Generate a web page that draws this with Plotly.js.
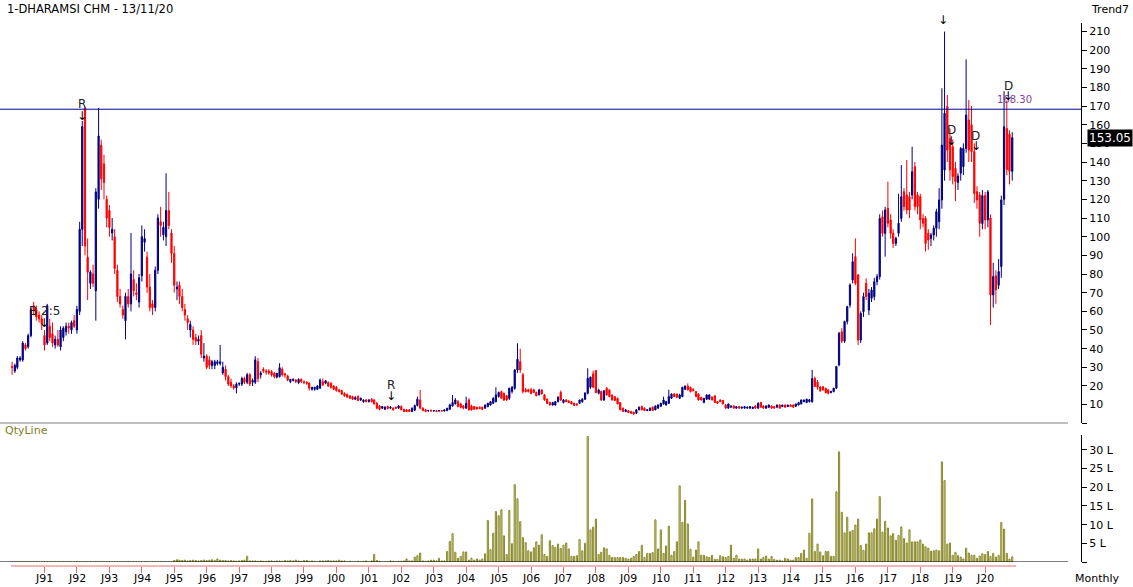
<!DOCTYPE html>
<html><head><meta charset="utf-8">
<script src="https://cdn.plot.ly/plotly-3.0.1.min.js"></script>
<style>html,body{margin:0;padding:0;background:#fff}#chart{width:1133px;height:587px}</style>
</head><body><div id="chart"></div><script>
const chartTitle = '1-DHARAMSI CHM - 13/11/20';
const startYear = 1990;
// monthly candles [open, high, low, close]
const ohlcRows = [
// 1990
[30.5,33,26,30],[28,32,27,31],[30,36,29,35],[34,36,33,35],[34,44,33,43],[42,43,39,40],[41,48,40,47],[47,62,46,61],[63,65,58,61],[61,63,55,57],[58,60,54,56],[56,58,50,53],
// 1991
[47,50,39,42],[43,64,42,63],[52,56,44,46],[48,54,41,43],[42,47,40,45],[45,50,41,42],[41,52,39,50],[46,52,44,51],[49,54,47,52],[52,54,48,51],[50,55,48,54],[55,58,51,52],
// 1992
[50,63,48,61],[60,108,58,104],[104,162,95,159],[169,169,90,95],[89,99,66,81],[75,82,72,81],[80,85,73,75],[71,126,55,124],[120,169,115,154],[149,152,125,131],[139,144,120,129],[120,122,105,110],
// 1993
[114,117,100,105],[102,110,98,104],[100,104,80,83],[82,85,65,68],[68,72,62,64],[61,63,56,58],[55,70,45,68],[68,72,62,64],[64,102,60,80],[77,82,68,71],[70,75,66,69],[65,80,62,78],
// 1994
[79,106,76,100],[97,104,92,99],[89,92,70,73],[73,80,60,62],[64,66,58,62],[62,84,60,82],[82,112,80,110],[108,116,100,106],[101,108,98,105],[100,134,95,114],[114,124,104,106],[102,104,86,91],
// 1995
[91,95,70,74],[72,76,66,73],[74,76,64,68],[68,72,60,62],[61,64,55,58],[56,58,50,54],[50,55,46,53],[50,52,42,45],[46,48,42,44],[44,47,42,45],[47,50,35,37],[35,43,33,36],
// 1996
[36,37,29,30],[34,36,29,31],[31,34,29,33],[31,34,29,33],[32,34,31,33],[32,42,31,33],[27,33,26,30],[29,31,23,25],[25,26,20,21],[22,24,19,20],[20,21,18,19],[19,22,16,21],
// 1997
[21,22,20,21.3],[21,25,20,24],[24,25,21,22],[22,27,21,26],[26,27,20,21],[22,24,20,23],[22,36,21,34],[33,35,22,24],[26,28,24,27],[29,30,27,28],[28,29,26,27.5],[28,29,26,27],
// 1998
[27.7,28.5,25,25.9],[26.8,27.5,24,25],[24.7,26,24,26.8],[25,32.2,24.5,29.8],[29,30,25,26],[26.5,27,24.5,25.9],[25.4,26,22.5,23.2],[22.3,23.6,21.5,23.6],[23,24,22.5,23.6],[23.2,23.6,21.5,22.3],[21.8,24,21,23.6],[23.6,24,21.5,22.3],
// 1999
[22.3,23,21,21.8],[22,22.5,20.5,21.5],[21.5,22,17.5,18.8],[18.2,19.5,17.5,19.3],[18.2,19.5,17.5,19.3],[18.2,20.5,17.8,20],[18.8,24,18.5,23.2],[22.3,24,20,20.6],[21.5,23,21,22.8],[21.8,22.5,19.5,20],[21.5,22,18.5,19.3],[20,20.5,17.8,18.2],
// 2000
[19.3,20,17,17.5],[17.9,18.5,16.5,17],[17.5,18,15.2,15.7],[16.1,16.5,14.2,14.7],[15.4,16,13.8,14],[14.7,15,13,13.4],[14.3,14.8,12.5,12.9],[12.9,14.5,12.5,13.8],[14.3,15,11.8,12.2],[12.5,13.8,12,13.4],[11.6,12.8,11,12.5],[12.5,13,11.2,11.6],
// 2001
[11.6,13,11.2,12.5],[12.9,13.5,11.2,11.6],[12.5,12.9,10,10.4],[10.7,11.5,7.6,8.1],[9.3,9.8,7,7.5],[8.1,9.3,7.7,8.95],[7.5,9.2,7.2,8.6],[8.95,9.5,7.4,7.9],[8.1,9.2,7.6,8.6],[8.1,8.6,6.8,7.2],[8.6,9,7.8,8.1],[8.1,9.8,7.8,9.3],
// 2002
[9,9.6,7,7.2],[7.5,7.8,6,6.3],[7.2,7.5,6,6.3],[7.2,7.5,6,6.3],[6.3,8.5,6,8.1],[7,10,6.8,9.5],[9.5,14.3,9,12.9],[12.5,17.9,7.5,8.1],[8.1,8.6,6.5,6.8],[7.2,7.8,6,6.3],[6.6,7.2,6.3,6.8],[6.8,7.4,6.3,6.6],
// 2003
[6.6,7.2,6.3,6.8],[6.8,7.2,6,6.3],[6.6,7,6.2,6.8],[6.8,7.2,6.3,6.6],[6.6,7.2,6.2,7.2],[6.8,8.2,6.5,8.1],[7.5,10.5,7.2,9.8],[9.3,15.2,9,11.1],[10.5,13.5,10,12.5],[11.6,12.5,8.5,9],[10.4,11,8,8.6],[9.3,9.8,7.5,8.1],
// 2004
[8.1,14.3,7.8,10.7],[12.5,13.5,6.8,7.2],[9.3,10,6.8,7.2],[8.95,9.3,7.2,7.5],[8.6,8.95,7.4,7.7],[8.6,9,7.5,7.9],[8.6,9,7,7.5],[8.1,10,7.8,9.8],[8.95,11,8.6,10.7],[9.8,12,9.5,11.6],[10.7,14,10.4,13.4],[11.6,19.3,11.2,15.2],
// 2005
[14.3,17,13.8,16.5],[17,17.5,13,13.4],[16.1,16.5,12,12.5],[14.7,15.2,12,12.5],[13.4,19,12.5,18.8],[17,20,16,19.3],[18.8,29,18,28.6],[28.6,42.9,27,34.3],[33,40,27,28.6],[26,27,16,17],[18,19,16.5,17],[18,18.5,16.5,17],
// 2006
[18,19,15.5,16],[17.9,18.5,16.5,16.5],[16.5,17,14.5,14.7],[15.2,18.5,15,17.9],[17.9,18.2,15.5,15.7],[15.2,15.7,12,12.5],[12.9,13.4,10.4,10.7],[11.1,11.6,9.5,9.8],[9.8,11.5,9.5,11.1],[9.8,12,9.5,11.6],[11.6,14.5,11.2,14],[16.5,17.5,12,12.5],
// 2007
[11.1,13,10.7,12.5],[12.5,13,11.4,11.6],[12,12.3,10.8,11.1],[11.6,12,10.2,10.4],[10.7,11,9.3,9.6],[10.4,10.7,9.5,9.8],[10.7,12.5,10.4,12.5],[11.6,13.5,11,12.9],[12.9,16.5,12.5,16.3],[16.1,29.5,15.5,24.1],[19.3,25,18.5,24.7],[26.5,28.2,19,19.3],
// 2008
[28.2,28.6,16,16.5],[16.1,18.5,15.5,17.9],[17,17.5,12,12.5],[12.5,17.5,12,17.5],[18.8,19.5,14.8,15.2],[17.9,18.2,14,14.3],[15.2,15.5,12.2,12.5],[14.3,14.6,12,12.2],[13.4,13.8,10.2,10.4],[11.1,11.4,7,7.2],[8.1,8.4,6.1,6.3],[6.3,7.5,6,7.2],
// 2009
[6.8,7.1,5.5,5.7],[6.3,6.6,5,5.4],[5.9,6.2,4.6,5],[5.4,7.5,5,7.2],[7.2,9,7,8.6],[8.95,9.5,7,7.2],[8.1,8.5,6.7,6.8],[6.8,7.5,6.5,7.2],[6.8,8.5,6.6,8.1],[8.6,9,6.6,6.8],[7.2,9.5,7,9.3],[8.1,10.2,7.8,9.8],
// 2010
[9.1,11,8.8,10.7],[10.4,14.3,10,12.5],[9.8,12,9.5,11.6],[10.7,18,10.4,14.3],[13.4,16,13,15.7],[15.7,16.2,14,14.3],[15.7,16,13.5,13.9],[13.4,15.8,13,15.2],[14.3,19.5,14,19.3],[18.2,20.2,17.8,20],[20,21.4,17.7,17.9],[19.3,19.6,16.5,17],
// 2011
[18.2,18.8,17,17.5],[17,17.3,14,14.3],[15.7,16,12.2,12.5],[13.9,14.2,12.3,12.5],[11.1,13.6,10.8,13.4],[12.9,15.5,12.6,15.2],[12.9,15.5,12.6,15.2],[14,14.4,12.3,12.5],[14.7,15,10.9,11.1],[11.6,12,10.4,10.7],[12.5,12.8,11.3,11.6],[12.2,12.5,10.2,10.4],
// 2012
[9.8,10.2,8,8.1],[8.1,10.5,7.9,10.4],[8.6,9.5,8.4,9.3],[9.3,9.6,8,8.1],[8.1,9.2,7.9,8.95],[8.95,9.2,8,8.1],[8.1,9,7.9,8.6],[8.1,9.2,7.9,8.95],[8.1,8.9,7.9,8.6],[8.1,9.2,7.9,8.95],[7.9,8.9,7.7,8.6],[9.3,9.8,7.9,8.1],
// 2013
[8.1,11.2,7.9,10.7],[11.1,11.5,8.4,8.6],[9.3,9.6,8,8.1],[8.1,9.5,7.9,9.3],[8.6,10,8.4,9.8],[9.3,9.6,8,8.1],[8.95,9.2,8,8.1],[8.6,10,8.4,9.8],[9.8,10.2,8,8.1],[8.95,9.9,8.8,9.8],[9.8,10.1,8.5,8.6],[8.95,10,8.8,9.8],
// 2014
[9.8,10.1,8.9,8.95],[9.8,10.1,8.4,8.6],[9.1,10.5,8.9,10.4],[9.8,11.5,9.6,11.1],[10.4,12.7,10.1,12.5],[11.6,12.7,11.3,12.5],[11.1,13.2,10.8,12.9],[11.6,13,11.2,12.6],[11.6,28.6,11,24],[24.1,25,19.5,19.7],[22,23.2,18,19.3],[19.5,20,16.8,17.5],
// 2015
[19.6,20,17.5,17.9],[18.7,19.2,16,16.4],[17.9,18.3,15.5,16.1],[16.5,17.5,16,17],[17,19,16.6,18.8],[18.8,30.8,18.3,30.4],[31.3,49,30.5,48.2],[49,51,43,44],[44,55,43,54.5],[54.5,63,53,62.5],[63.4,75,62,74.1],[76.8,91.1,75,86.6],
// 2016
[89.3,99.1,74,75],[79.5,80,41.9,44.6],[44.6,60,43,58.9],[59.8,70,57,67.9],[75,77.7,66,67.9],[60.7,72,58,69.7],[67,73,65,71.4],[67.9,78,66,75.9],[75.9,80,74,78.6],[78.6,112,77,109.8],[110.7,114,100,101.8],[101.8,116,89.3,114.3],
// 2017
[115.2,129.5,105,107.2],[109,112,99,101.8],[101.8,104,94,96.4],[96.4,100,95,99.1],[101.8,123,100,107.2],[109.8,138.4,108,121.4],[124.1,126,114,116.1],[122.3,141.1,112,114.3],[121.4,124,110,114.3],[122.3,148.2,120,134.8],[137.5,140,114,116.1],[122.3,124,112,116.1],
// 2018
[121.4,123,104,109],[109.8,112,105,107.2],[109.8,111,92,96.4],[101.8,104,93,98.2],[99,102,95,100.9],[100.9,106,98,104.5],[104.5,115,100,113.4],[108,126,104,119.7],[119.7,179.5,115,149.1],[135.7,209.9,130,166.1],[169.7,175.9,140,146.4],[152.7,158,130,135.7],
// 2019
[148.2,152,128,132.2],[136.6,140,119,129.5],[129,134,125,132.5],[134,148,130,147.3],[137.5,150,133,147.3],[147.3,195,145,165.2],[162.5,173.2,140,146.4],[160,170,140,145.6],[145.6,150,118,123.2],[124.1,127,115,119.7],[122.3,124,100,107.2],[107,125,104,122],
// 2020
[122,124,104,109],[109,125,105,124],[110,112,52.7,68.8],[68.8,86,62,78.6],[79,82,64,71.5],[74,88,72,81.3],[84,122,78,119.7],[120,178,117,158.9],[158,173,133,136],[155,157,128,135],[135,156,130,153.05]
];
// monthly quantity, in lakh shares
const volumeLakh = [
0,0,0,0,0,0,0,0,0,0,0,0,
0,0,0,0,0,0,0,0,0,0,0,0,
0,0,0,0,0,0,0,0,0,0,0,0,
0,0,0,0,0,0,0,0,0,0,0,0,
0,0,0,0,0,0,0,0,0,0,0,0,
0.4,0.6,0.5,0.4,0.5,0.3,0.4,0.5,0.4,0.3,0.4,0.5,
0.4,0.5,0.6,0.4,0.8,0.5,0.4,0.4,0.3,0.4,0.3,0.2,
0.3,0.4,0.5,1.5,0.3,0.3,0.3,0.2,0.3,0.2,0.2,0.3,
0.3,0.2,0.3,0.3,0.2,0.4,0.3,0.4,0.3,0.5,0.3,0.2,
0.4,0.4,0.2,0.3,0.2,0,0.3,0.3,0.3,0.4,0.3,0.3,
0.3,0.5,0.3,0.3,0,0.2,0,0,0.2,0,0.2,0.3,
0,0.3,2.0,0.4,0.2,0,0,0,0.3,0.2,0,0.2,
0.2,0.3,0.8,0.3,0.3,1.3,1.7,2.4,0.3,0.2,0.3,0.5,
0.5,0.3,1.0,0.3,0.3,2.8,5.5,7.6,2.6,1.0,1.5,2.7,
2.7,0.5,1.0,0.5,0.8,0.5,0.8,2.2,11.1,3.3,7.7,13.5,
12.4,14,7,2,13.8,4.9,20.7,16.9,10.8,6.5,5.2,3.0,
2.7,3.8,5.4,4.5,7.3,2,1.5,5.7,4.4,3.9,4.8,3.6,
4.5,5.1,3.5,1.5,1.5,1.7,6,3,5,33.6,8.6,9.3,
11.5,2,2.6,3.8,3.5,1.8,1.2,1.2,1.2,1.2,1.2,1.0,
0.8,1.0,1.5,2.0,2.8,4.5,1.2,2.3,2.3,2.5,11.3,3.5,
8.6,2.3,4.3,9.6,1.8,2.8,5.4,20.4,10.6,16.5,10.2,3.4,
1.3,3.2,5.4,1.8,1.8,1.4,1.2,1.8,0.7,0.7,1.7,1.4,
1.2,1.5,4.5,1.0,1.8,0.8,0.8,0.8,0.5,0.8,0.8,0.8,
3.5,0.8,1.2,1.6,0.8,1.5,0.7,0.5,0.5,0.3,1.0,0.8,
0.5,0.5,1.2,1.2,2.3,3.2,1.0,7.7,16.9,2.8,4.8,2.7,
1.7,2.8,2.8,1.5,1.5,18.8,29.5,13.3,7.8,12.0,8.1,8.4,
9.9,11.5,4.4,3.1,4.8,7.8,7.8,8.9,11.5,17.5,8.0,10.9,
9.1,7,7.6,5.8,7.1,9.4,6.3,5.1,8.6,5.4,5.4,5.4,
5.9,4.8,4.1,3.7,2.9,3.0,3.2,3.0,26.8,21.8,4.8,5.1,
1.8,2.6,1.7,1.3,0.8,3.7,2.4,1.8,1.8,1.0,1.6,2.2,
2.0,2.8,1.5,2.3,1.3,1.8,10.6,8.8,2.3,0.8,1.4
];
const yearTickLabels = ['J91','J92','J93','J94','J95','J96','J97','J98','J99','J00','J01','J02','J03','J04','J05','J06','J07','J08','J09','J10','J11','J12','J13','J14','J15','J16','J17','J18','J19','J20'];
const priceTickValues = [0,10,20,30,40,50,60,70,80,90,100,110,120,130,140,150,160,170,180,190,200,210];
const volumeTickValues = [0,5,10,15,20,25,30];
const resistanceLevel = 168.30;
const lastClose = 153.05;
// chart markers: [label, date, price of label, price of arrow]
const markers = [
  ['R','1992-02-28',171.1,164.7],
  ['R','2001-09-10',20.5,14.6],
  ['B 2:5','1990-12-28',60.2,53.8],
  ['D','2018-12-13',157.2,151.3],
  ['D','2019-09-19',154.0,148.6],
  ['D','2020-09-19',180.5,175.4]
];

const dates = ohlcRows.map((r,i)=>{const y=startYear+Math.floor(i/12), m=i%12+1; return y+'-'+String(m).padStart(2,'0')+'-01';});
const opens = ohlcRows.map(r=>r[0]), highs = ohlcRows.map(r=>r[1]), lows = ohlcRows.map(r=>r[2]), closes = ohlcRows.map(r=>r[3]);
const yearTickDates = yearTickLabels.map((t,i)=>(1991+i)+'-01-01');

const PW = 1093, PH = 566;
const px = x => x/PW, py = y => (PH-y)/PH;
const F = 'DejaVu Sans, Verdana, sans-serif';

const traces = [
  {type:'candlestick', x:dates, open:opens, high:highs, low:lows, close:closes, xaxis:'x', yaxis:'y',
   increasing:{line:{color:'#000080',width:1}, fillcolor:'#000080'},
   decreasing:{line:{color:'#ff0000',width:1}, fillcolor:'#ff0000'},
   whiskerwidth:0, hoverinfo:'skip', showlegend:false},
  {type:'bar', x:dates, y:volumeLakh, xaxis:'x', yaxis:'y2', width:13*86400000,
   marker:{color:'#f4f4a6', line:{color:'#7c7c1c', width:0.9}}, hoverinfo:'skip', showlegend:false}
];

const annotations = [
  {xref:'paper', yref:'paper', x:px(5), y:py(9), xanchor:'left', yanchor:'middle', text:chartTitle, showarrow:false, font:{family:F,size:11.5,color:'#000'}},
  {xref:'paper', yref:'paper', x:px(1089), y:py(9), xanchor:'left', yanchor:'middle', text:'Trend7', showarrow:false, font:{family:F,size:11,color:'#000'}},
  {xref:'paper', yref:'paper', x:px(3), y:py(430), xanchor:'left', yanchor:'middle', text:'QtyLine', showarrow:false, font:{family:F,size:11,color:'#80801a'}},
  {xref:'paper', yref:'paper', x:px(1073), y:py(578), xanchor:'left', yanchor:'middle', text:'Monthly', showarrow:false, font:{family:F,size:11,color:'#000'}},
  {xref:'paper', yref:'y', x:px(1087), y:lastClose, xanchor:'left', yanchor:'middle', text:lastClose.toFixed(2), showarrow:false, bgcolor:'#000', borderpad:1, font:{family:F,size:12,color:'#fff'}},
  {xref:'x', yref:'y', x:'2020-11-22', y:173.3, xanchor:'center', yanchor:'middle', text:resistanceLevel.toFixed(2), showarrow:false, font:{family:F,size:10,color:'#8a3c9c'}},
  {xref:'x', yref:'paper', x:'2018-09-19', y:py(20), xanchor:'center', yanchor:'middle', text:'↓', showarrow:false, font:{family:F,size:12,color:'#000'}}
];
yearTickLabels.forEach((t,i)=>{
  annotations.push({xref:'x', yref:'paper', x:yearTickDates[i], y:py(578), xanchor:'center', yanchor:'middle', text:t, showarrow:false, font:{family:F,size:11,color:'#000'}});
});
markers.forEach(([t,d,yl,ya])=>{
  annotations.push({xref:'x', yref:'y', x:d, y:yl, xanchor:'center', yanchor:'middle', text:t, showarrow:false, font:{family:F,size:12,color:'#222'}});
  annotations.push({xref:'x', yref:'y', x:d, y:ya, xanchor:'center', yanchor:'middle', text:'↓', showarrow:false, font:{family:F,size:12,color:'#000'}});
});

const shapes = [
  {type:'line', xref:'paper', yref:'y', x0:0, x1:px(1081), y0:resistanceLevel, y1:resistanceLevel, line:{color:'#00009c', width:1}},
  {type:'line', xref:'paper', yref:'y', x0:0, x1:px(1068), y0:0, y1:0, line:{color:'#000', width:1.2}},
  {type:'line', xref:'paper', yref:'y2', x0:0, x1:px(1068), y0:0, y1:0, line:{color:'#000', width:1.2}},
  {type:'line', xref:'x', yref:'paper', x0:'1989-12-20', x1:'2020-12-15', y0:0, y1:0, line:{color:'#e07070', width:1}}
];

const layout = {
  width:1133, height:587, margin:{l:0, r:40, t:0, b:21, pad:0},
  paper_bgcolor:'#fff', plot_bgcolor:'#fff', showlegend:false, dragmode:false,
  font:{family:F, size:11, color:'#000'},
  xaxis:{type:'date', domain:[0, px(1068)], range:['1989-08-18','2022-07-22'], anchor:'free', position:0,
    tickvals:yearTickDates, showticklabels:false,
    ticks:'outside', ticklen:6, tickwidth:1, tickcolor:'#e07070', showline:false, showgrid:false, zeroline:false,
    rangeslider:{visible:false}, fixedrange:true},
  yaxis:{domain:[py(423.3), py(23)], range:[0,214.5], side:'right', anchor:'free', position:px(1081),
    tickvals:priceTickValues, ticktext:priceTickValues.map(v=>v===0?'':String(v)),
    ticks:'outside', ticklen:5, tickcolor:'#000', showline:true, linecolor:'#000', linewidth:1,
    showgrid:false, zeroline:false, tickfont:{family:F,size:11,color:'#000'}, fixedrange:true},
  yaxis2:{domain:[py(562), py(435)], range:[0,34], side:'right', anchor:'free', position:px(1081),
    tickvals:volumeTickValues, ticktext:volumeTickValues.map(v=>v===0?'':v+' L'),
    ticks:'outside', ticklen:5, tickcolor:'#000', showline:true, linecolor:'#000', linewidth:1,
    showgrid:false, zeroline:false, tickfont:{family:F,size:11,color:'#000'}, fixedrange:true},
  annotations:annotations, shapes:shapes, bargap:0
};
Plotly.newPlot('chart', traces, layout, {displayModeBar:false, staticPlot:true});
</script></body></html>
